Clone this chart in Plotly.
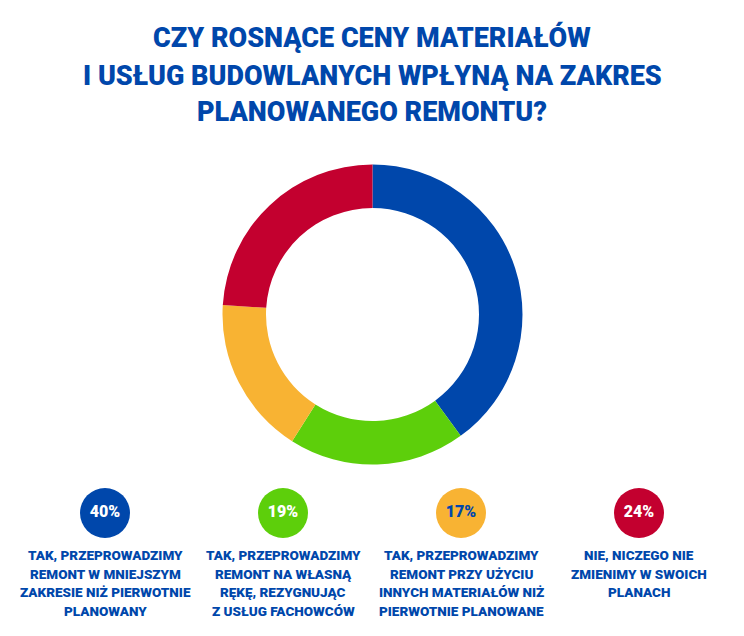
import plotly.graph_objects as go

# ---- data ----
title_lines = ["CZY ROSNĄCE CENY MATERIAŁÓW",
               "I USŁUG BUDOWLANYCH WPŁYNĄ NA ZAKRES",
               "PLANOWANEGO REMONTU?"]
categories = [
    ["TAK, PRZEPROWADZIMY", "REMONT W MNIEJSZYM", "ZAKRESIE NIŻ PIERWOTNIE", "PLANOWANY"],
    ["TAK, PRZEPROWADZIMY", "REMONT NA WŁASNĄ", "RĘKĘ, REZYGNUJĄC", "Z USŁUG FACHOWCÓW"],
    ["TAK, PRZEPROWADZIMY", "REMONT PRZY UŻYCIU", "INNYCH MATERIAŁÓW NIŻ", "PIERWOTNIE PLANOWANE"],
    ["NIE, NICZEGO NIE", "ZMIENIMY W SWOICH", "PLANACH"],
]
values = [40, 19, 17, 24]
pct_labels = ["40%", "19%", "17%", "24%"]
colors = ["#0047AB", "#5DCF0B", "#F8B333", "#C3002F"]
pct_text_colors = ["#FFFFFF", "#FFFFFF", "#0047AB", "#FFFFFF"]

W, H = 744, 636
FONT = "Roboto, sans-serif"
BLUE = "#0047AB"

fig = go.Figure()

# donut
cx, cy, r = 372.5, 314.5, 150
fig.add_trace(go.Pie(
    values=values,
    labels=[" ".join(c) for c in categories],
    marker=dict(colors=colors, line=dict(width=0)),
    hole=0.71,
    sort=False,
    direction="clockwise",
    rotation=0,
    textinfo="none",
    hoverinfo="skip",
    showlegend=False,
    domain=dict(x=[(cx - r) / W, (cx + r) / W], y=[1 - (cy + r) / H, 1 - (cy - r) / H]),
))

# percentage bubbles
xs = list(range(len(values)))
fig.add_trace(go.Scatter(
    x=xs, y=[0] * len(values),
    mode="markers+text",
    marker=dict(size=50, color=colors, line=dict(width=0)),
    text=pct_labels,
    textposition="middle center",
    textfont=dict(family=FONT, size=16, color=pct_text_colors, weight=900),
    hoverinfo="skip",
    showlegend=False,
))

annotations = []
# title, one annotation per line
title_y = [37.5, 75.5, 112]
for ty, ln in zip(title_y, title_lines):
    annotations.append(dict(
        x=0.5, xref="paper", y=1 - ty / H, yref="paper",
        text=ln, showarrow=False, xanchor="center", yanchor="middle",
        font=dict(family=FONT, size=27, color=BLUE, weight=900),
    ))

# category labels, one annotation per line
line0, pitch = 555, 18.7
for i, lines in enumerate(categories):
    for j, ln in enumerate(lines):
        annotations.append(dict(
            x=xs[i], xref="x", y=1 - (line0 + j * pitch) / H, yref="paper",
            text=ln, showarrow=False, xanchor="center", yanchor="middle",
            font=dict(family=FONT, size=13.5, color=BLUE, weight=900),
        ))

bubble_y = 513
fig.update_layout(
    width=W, height=H,
    margin=dict(l=0, r=0, t=0, b=0),
    paper_bgcolor="white", plot_bgcolor="white",
    xaxis=dict(range=[-105 / 178, -105 / 178 + W / 178], visible=False, fixedrange=True),
    yaxis=dict(range=[-1, 1], domain=[0, 2 * (1 - bubble_y / H)], visible=False, fixedrange=True),
    annotations=annotations,
)

fig.write_html("out.html", config={"displayModeBar": False},
               post_script="document.body.style.margin='0';")
